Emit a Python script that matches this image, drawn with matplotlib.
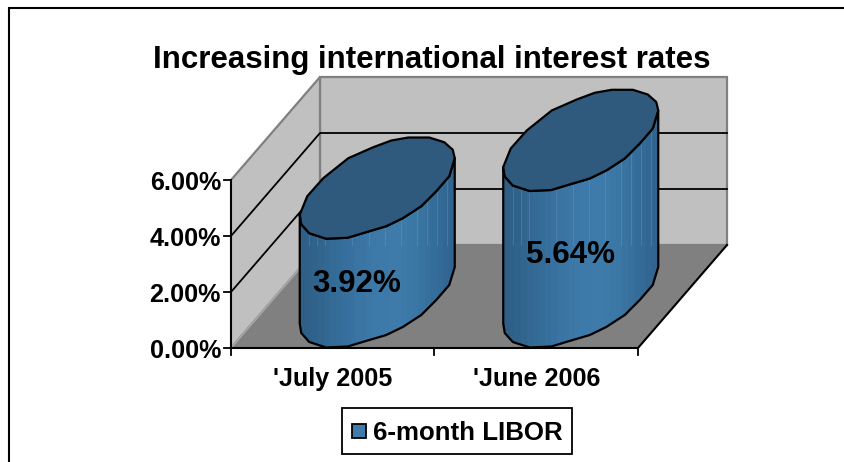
import numpy as np
import matplotlib
matplotlib.use("Agg")
import matplotlib.pyplot as plt
from matplotlib.patches import Polygon, Rectangle
from matplotlib.colors import LinearSegmentedColormap

title = "Increasing international interest rates"
categories = ["'July 2005", "'June 2006"]
series_name = "6-month LIBOR"
libor = [3.92, 5.64]
value_labels = ["3.92%", "5.64%"]
y_ticks = [0.0, 2.0, 4.0, 6.0]
y_tick_labels = ["0.00%", "2.00%", "4.00%", "6.00%"]

# Style / projection of the 3D frame (pixel space)
X0, X1, Y0 = 231.0, 638.0, 348.0
DX, DY = 89.0, 103.0
PX_PER_UNIT = 28.0
BAR_PER_UNIT = 27.75
WALL, FLOOR, EDGE = "#c0c0c0", "#808080", "#808080"
FS_TITLE, FS_TICK, FS_LABEL, FS_LEGEND = 22.5, 18.1, 22.6, 18.6
FONT = "Liberation Sans"
LABEL_DX = [-20.5, -10.5]
LABEL_K = 16.7

# Cross-section outline of the cylinder relative to its centre (pixels), clockwise from the left
SECTION = np.array([(-77.5, 26.5), (-70, 8), (-54, -10), (-29, -30), (-4, -41), (14, -47.7),
                    (31, -50.7), (52, -50.7), (67, -46), (75.5, -38.5), (77.5, -30), (72, -12),
                    (59, 3), (44, 18), (25.5, 30), (9, 38), (-13, 44.5), (-29.5, 49.5),
                    (-51, 50.5), (-68, 45), (-76, 36)])
RIGHT = int(np.argmax(SECTION[:, 0]))
STRIPE_OFFSETS = [-68, -60, -52, -25, -8, 8, 24, 40, 50, 60, 70]

fig = plt.figure(figsize=(8.45, 4.62), dpi=100, facecolor="white")
ax = fig.add_axes([0, 0, 1, 1])
ax.set_xlim(0, 845)
ax.set_ylim(462, 0)
ax.axis("off")


def front_y(v):
    return Y0 - PX_PER_UNIT * v


def text(x, y, s, size, **kw):
    ax.text(x, y, s, fontsize=size, fontweight="bold", family=FONT, color="black",
            ha=kw.pop("ha", "center"), va="center", **kw)


# Outer frame (open on the right and at the bottom)
ax.plot([9, 9, 845], [462, 8, 8], color="black", lw=1.5, solid_joinstyle="miter", zorder=1)

top = front_y(max(y_ticks))
# Walls and floor
ax.add_patch(Polygon([(X0 + DX, Y0 - DY), (X1 + DX, Y0 - DY), (X1 + DX, top - DY), (X0 + DX, top - DY)],
                     fc=WALL, ec=EDGE, lw=1.6, zorder=2))
ax.add_patch(Polygon([(X0, Y0), (X0 + DX, Y0 - DY), (X0 + DX, top - DY), (X0, top)],
                     fc=WALL, ec=EDGE, lw=1.6, zorder=2))
ax.add_patch(Polygon([(X0, Y0), (X1, Y0), (X1 + DX, Y0 - DY), (X0 + DX, Y0 - DY)],
                     fc=FLOOR, ec="none", zorder=2))
ax.plot([X0, X0 + DX], [Y0, Y0 - DY], color="#a8a8a8", lw=1.2, zorder=3)

# Gridlines
for v in y_ticks[1:-1]:
    y = front_y(v)
    ax.plot([X0, X0 + DX, X1 + DX], [y, y - DY, y - DY], color="black", lw=1.3, zorder=3)

# Axes lines and ticks
ax.plot([X0, X0], [top, Y0], color="black", lw=1.4, zorder=4)
ax.plot([X0, X1, X1 + DX], [Y0, Y0, Y0 - DY], color="black", lw=1.5, zorder=4)
for v, lab in zip(y_ticks, y_tick_labels):
    y = front_y(v)
    ax.plot([X0 - 7, X0], [y, y], color="black", lw=1.3, zorder=4)
    text(X0 - 10, y + 2.5, lab, FS_TICK, ha="right")
n = len(categories)
for i in range(n + 1):
    x = X0 + (X1 - X0) * i / n
    ax.plot([x, x], [Y0, Y0 + 7], color="black", lw=1.3, zorder=4)

# Cylinders
cmap = LinearSegmentedColormap.from_list(
    "cyl", ["#2f5f86", "#32668f", "#366e9b", "#3a75a4", "#3e7aa9", "#3f7cab", "#3c78a6", "#366e9b", "#316590"])
grad = np.linspace(0, 1, 26)[None, :]
for i, (v, lab) in enumerate(zip(libor, value_labels)):
    fx = X0 + (X1 - X0) * (i + 0.5) / n
    cx, cy = fx + DX / 2, Y0 - 51.0
    h = BAR_PER_UNIT * v
    base = SECTION + (cx, cy)
    head = base - (0, h)
    lower_b = np.vstack([base[RIGHT:], base[0]])
    lower_t = np.vstack([head[RIGHT:], head[0]])
    side = np.vstack([lower_t, lower_b[::-1]])
    patch = Polygon(side, fc="none", ec="none", zorder=5)
    ax.add_patch(patch)
    im = ax.imshow(grad, cmap=cmap, extent=(cx - 77.5, cx + 77.5, Y0 + 1, head[:, 1].min()),
                   aspect="auto", interpolation="nearest", zorder=5)
    im.set_clip_path(patch)
    for off in STRIPE_OFFSETS:
        ln, = ax.plot([cx + off, cx + off], [head[:, 1].min(), Y0 - DY],
                      color="#7fa6c6", lw=0.7, alpha=0.3, zorder=5)
        ln.set_clip_path(patch)
    ax.add_patch(Polygon(side, fc="none", ec="black", lw=1.6, joinstyle="round", zorder=6))
    ax.add_patch(Polygon(head, fc="#2f5a7e", ec="black", lw=1.6, joinstyle="round", zorder=7))
    text(cx + LABEL_DX[i], Y0 - LABEL_K * v + 1.5, lab, FS_LABEL, zorder=8)
    text(fx, Y0 + 31, categories[i], FS_TICK)

ax.set_xlim(0, 845)
ax.set_ylim(462, 0)

# Title
text(432, 60, title, FS_TITLE)

# Legend
ax.add_patch(Rectangle((342, 407.5), 230, 46, fc="white", ec="black", lw=1.3, zorder=4))
ax.add_patch(Rectangle((352, 423.5), 14, 14, fc="#3f7cab", ec="black", lw=1.3, zorder=5))
text(373, 433, series_name, FS_LEGEND, ha="left", zorder=5)

fig.savefig("out.png", dpi=100, facecolor="white")
